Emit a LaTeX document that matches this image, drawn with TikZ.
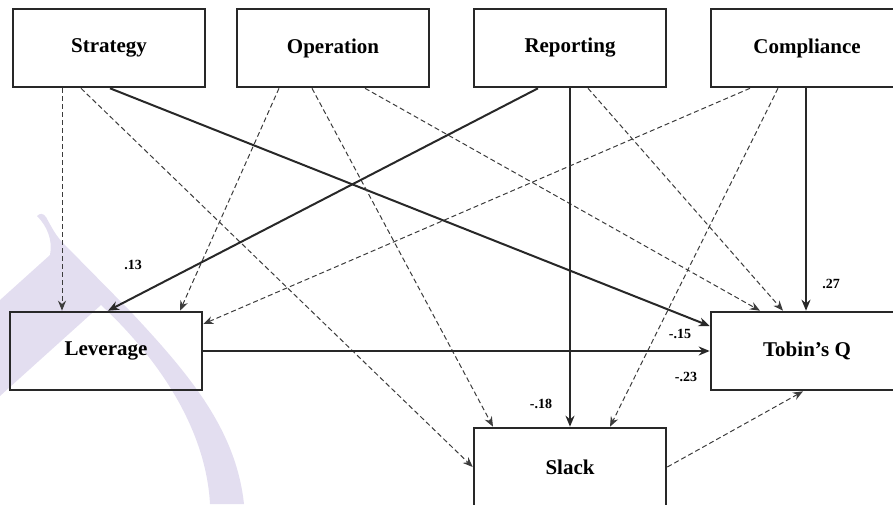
\documentclass[tikz,border=0pt]{standalone}
\usepackage{fontspec}
\setmainfont{Liberation Serif}
\usetikzlibrary{arrows.meta}
\definecolor{wmcolor}{RGB}{227,222,240}
\definecolor{linecol}{RGB}{40,40,40}
\definecolor{dashcol}{RGB}{60,60,60}
\tikzset{
  varbox/.style={draw=linecol, line width=2.6pt, minimum width=192pt, minimum height=78pt,
    inner sep=0pt, font=\fontsize{21}{24}\selectfont\bfseries},
  coef/.style={inner sep=0pt, font=\fontsize{14}{16}\selectfont\bfseries},
  sig/.style={draw=linecol, line width=2pt, -{Stealth[length=11pt,width=9pt]}},
  nonsig/.style={draw=dashcol, line width=1pt, dash pattern=on 5pt off 3pt,
    -{Stealth[length=10pt,width=8pt]}},
}
\begin{document}
\begin{tikzpicture}[x=1pt,y=-1pt]
\useasboundingbox (0,0) rectangle (893,504);
\clip (0,0) rectangle (893,504);

% faint background emblem
\fill[wmcolor] (0,300) -- (50,255)
  .. controls (53,240) and (47,226) .. (37,216)
  .. controls (40,213) and (43,213) .. (46,217)
  .. controls (52,228) and (56,236) .. (64,244)
  -- (131,312)
  .. controls (190,375) and (236,430) .. (244,504)
  -- (210,504)
  .. controls (206,430) and (160,360) .. (101,305)
  -- (0,396) -- cycle;

% variables
\node[varbox] (str)  at (109,48)  {Strategy};
\node[varbox] (op)   at (333,48)  {Operation};
\node[varbox] (rep)  at (570,48)  {Reporting};
\node[varbox] (comp) at (807,48)  {Compliance};
\node[varbox] (lev)  at (106,351) {Leverage};
\node[varbox] (tob)  at (807,351) {Tobin’s Q};
\node[varbox] (slack) at (570,467) {Slack};

% paths from Strategy
\draw[nonsig] ([xshift=-47pt]str.south) -- ([xshift=-44pt]lev.north);
\draw[nonsig] ([xshift=-28pt]str.south) -- (slack.west);
\draw[sig]    ([xshift=1pt]str.south) -- ([yshift=25pt]tob.west);

% paths from Operation
\draw[nonsig] ([xshift=-54pt]op.south) -- ([xshift=74pt]lev.north);
\draw[nonsig] ([xshift=-21pt]op.south) -- ([xshift=-77pt]slack.north);
\draw[nonsig] ([xshift=32pt]op.south) -- ([xshift=-47pt]tob.north);

% paths from Reporting
\draw[sig]    ([xshift=-32pt]rep.south) -- ([xshift=2pt]lev.north);
\draw[sig]    (rep.south) -- (slack.north);
\draw[nonsig] ([xshift=18pt]rep.south) -- ([xshift=-24pt]tob.north);

% paths from Compliance
\draw[nonsig] ([xshift=-57pt]comp.south) -- ([yshift=27pt]lev.east);
\draw[nonsig] ([xshift=-29pt]comp.south) -- ([xshift=40pt]slack.north);
\draw[sig]    ([xshift=-1pt]comp.south) -- ([xshift=-1pt]tob.north);

% mediator paths
\draw[sig]    (lev.east) -- (tob.west);
\draw[nonsig] (slack.east) -- ([xshift=-4pt]tob.south);

% coefficients
\node[coef] (c13) at (133,265) {.13};
\node[coef] (c27) at (831,284) {.27};
\node[coef] (c15) at (680,334) {-.15};
\node[coef] (c23) at (686,377) {-.23};
\node[coef] (c18) at (541,404) {-.18};
\end{tikzpicture}
\end{document}
